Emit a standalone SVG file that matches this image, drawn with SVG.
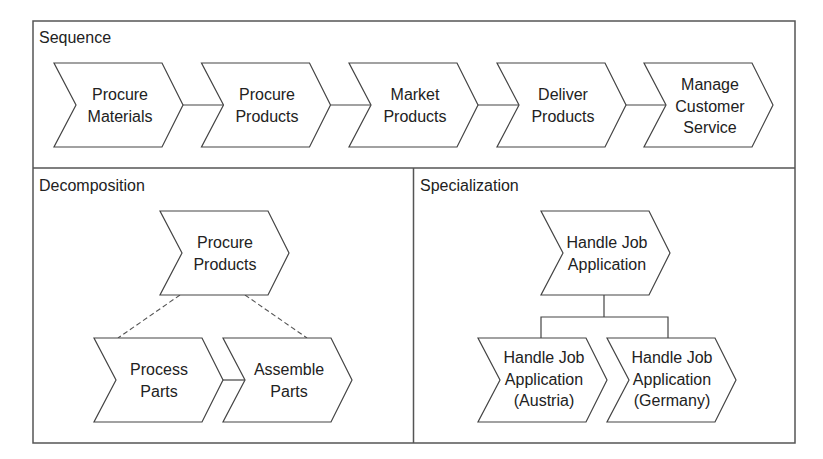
<svg xmlns="http://www.w3.org/2000/svg" width="823" height="459" viewBox="0 0 823 459">
<style>
.frame{fill:none;stroke:#555;stroke-width:1.5}
.chev{fill:#fff;stroke:#444;stroke-width:1.2;stroke-linejoin:miter}
.line{fill:none;stroke:#444;stroke-width:1.2}
.dash{fill:none;stroke:#555;stroke-width:1.1;stroke-dasharray:5 3}
text{font-family:"Liberation Sans",Arial,sans-serif;font-size:16px;fill:#222}
.c{text-anchor:middle}
</style>
<defs>
<path id="chev" d="M0,0 H108 L129,42 L108,84 H0 L22,42 Z"/>
</defs>
<rect width="823" height="459" fill="#fff"/>
<g id="frames">
<rect class="frame" x="33" y="21" width="762" height="422"/>
<line class="frame" x1="33" y1="168" x2="795" y2="168"/>
<line class="frame" x1="413.5" y1="168" x2="413.5" y2="443"/>
<text x="39" y="43">Sequence</text>
<text x="39" y="191">Decomposition</text>
<text x="420" y="191">Specialization</text>
</g>
<g id="connectors">
<line class="line" x1="183" y1="105" x2="224" y2="105"/>
<line class="line" x1="330.5" y1="105" x2="371" y2="105"/>
<line class="line" x1="478" y1="105" x2="519" y2="105"/>
<line class="line" x1="626" y1="105" x2="666" y2="105"/>
<line class="line" x1="223" y1="380" x2="245" y2="380"/>
<line class="dash" x1="180" y1="295" x2="118" y2="338"/>
<line class="dash" x1="245" y1="295" x2="307" y2="338"/>
<polyline class="line" points="604,295 604,317"/>
<polyline class="line" points="541,338 541,317 668,317 668,338"/>
</g>
<g id="n1"><use href="#chev" class="chev" x="54" y="63"/><text class="c" x="120" y="100">Procure</text><text class="c" x="120" y="122">Materials</text></g>
<g id="n2"><use href="#chev" class="chev" x="201.5" y="63"/><text class="c" x="267" y="100">Procure</text><text class="c" x="267" y="122">Products</text></g>
<g id="n3"><use href="#chev" class="chev" x="349" y="63"/><text class="c" x="415" y="100">Market</text><text class="c" x="415" y="122">Products</text></g>
<g id="n4"><use href="#chev" class="chev" x="497" y="63"/><text class="c" x="563" y="100">Deliver</text><text class="c" x="563" y="122">Products</text></g>
<g id="n5"><use href="#chev" class="chev" x="644" y="63"/><text class="c" x="710" y="90">Manage</text><text class="c" x="710" y="112">Customer</text><text class="c" x="710" y="133">Service</text></g>
<g id="d1"><use href="#chev" class="chev" x="160" y="211"/><text class="c" x="225" y="248">Procure</text><text class="c" x="225" y="270">Products</text></g>
<g id="d2"><use href="#chev" class="chev" x="94" y="338"/><text class="c" x="159" y="375">Process</text><text class="c" x="159" y="397">Parts</text></g>
<g id="d3"><use href="#chev" class="chev" x="223" y="338"/><text class="c" x="289" y="375">Assemble</text><text class="c" x="289" y="397">Parts</text></g>
<g id="s1"><use href="#chev" class="chev" x="541" y="211"/><text class="c" x="607" y="248">Handle Job</text><text class="c" x="607" y="270">Application</text></g>
<g id="s2"><use href="#chev" class="chev" x="478" y="338"/><text class="c" x="544" y="363">Handle Job</text><text class="c" x="544" y="385">Application</text><text class="c" x="544" y="406">(Austria)</text></g>
<g id="s3"><use href="#chev" class="chev" x="607" y="338"/><text class="c" x="672" y="363">Handle Job</text><text class="c" x="672" y="385">Application</text><text class="c" x="672" y="406">(Germany)</text></g>
</svg>
